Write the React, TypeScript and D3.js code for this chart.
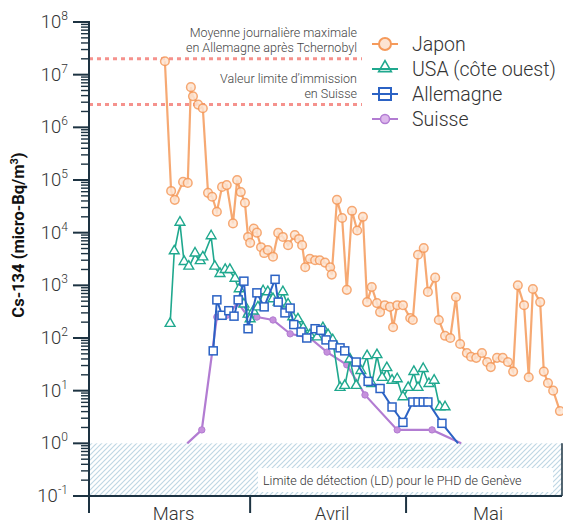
import React, { useEffect, useRef } from 'react';
import * as d3 from 'd3';

// days counted from 1 March (0 = 1 Mar), values in micro-Bq/m3
const japonDays = [14.6, 15.8, 16.5, 18.1, 19.0, 19.6, 20.0, 21.0, 21.9, 22.9, 23.7, 24.6, 25.6, 26.5, 27.7, 28.5, 29.2, 30.0, 30.6, 31.0, 31.7, 32.3, 33.1, 33.7, 34.4, 35.4, 36.4, 37.3, 38.3, 39.6, 40.4, 41.0, 41.6, 42.5, 43.5, 44.4, 45.4, 46.4, 46.7, 47.7, 48.7, 49.6, 50.6, 51.6, 52.7, 53.5, 54.4, 55.4, 56.0, 56.9, 57.9, 58.5, 59.3, 60.4, 61.8, 62.3, 63.3, 64.4, 65.2, 66.6, 67.3, 68.5, 69.5, 70.6, 71.4, 72.7, 73.5, 74.5, 75.6, 76.6, 77.3, 78.5, 79.6, 80.6, 81.6, 82.5, 83.7, 84.6, 85.4, 86.8, 87.5, 88.3, 89.3, 90.6];
const japonValues = [1.8e7, 6.2e4, 4.2e4, 9.2e4, 8.8e4, 5.8e6, 3.9e6, 2.7e6, 2.3e6, 5.7e4, 4.8e4, 2.5e4, 7.4e4, 8.0e4, 1.5e4, 1.0e5, 5.9e4, 3.7e4, 8.3e3, 6.4e3, 1.2e4, 1.0e4, 5.3e3, 4.1e3, 4.7e3, 3.5e3, 9.9e3, 8.3e3, 5.8e3, 9.0e3, 7.6e3, 5.8e3, 2.2e3, 3.2e3, 3.0e3, 3.0e3, 2.7e3, 2.2e3, 1.6e3, 4.2e4, 1.9e4, 820, 2.6e4, 1.1e4, 2.0e4, 480, 930, 460, 310, 420, 390, 160, 420, 420, 240, 220, 3.8e3, 5.1e3, 750, 1.4e3, 220, 110, 100, 600, 77, 52, 44, 42, 52, 35, 28, 42, 42, 35, 23, 1.0e3, 420, 18, 850, 480, 23, 14, 10, 4.1];

const usaDays = [15.6, 16.4, 17.5, 18.3, 19.2, 20.4, 21.4, 21.9, 23.5, 24.2, 25.2, 26.2, 27.1, 28.1, 28.9, 29.8, 30.6, 31.0, 31.6, 32.5, 33.5, 34.4, 35.4, 36.4, 37.3, 38.3, 39.2, 40.2, 41.2, 42.5, 43.9, 45.0, 46.0, 46.9, 48.3, 49.2, 50.2, 51.4, 52.3, 53.5, 54.4, 55.4, 56.4, 57.3, 58.3, 59.3, 60.4, 61.4, 62.5, 63.3, 64.3, 65.4, 66.4, 67.5, 68.5];
const usaValues = [180, 4300, 15000, 2700, 2200, 3900, 2800, 3300, 8300, 2200, 1600, 1900, 1900, 1300, 820, 420, 270, 220, 310, 370, 750, 720, 530, 460, 720, 420, 240, 220, 150, 110, 100, 150, 110, 88, 11, 12, 38, 12, 23, 44, 13, 46, 17, 26, 15, 16, 7.3, 11, 22, 11, 25, 13, 15, 4.7, 4.7];

const allemagneDays = [23.9, 24.6, 25.6, 26.9, 27.9, 28.7, 29.8, 30.6, 32.3, 33.7, 35.8, 36.4, 37.7, 38.7, 39.4, 40.8, 41.9, 43.5, 44.6, 45.6, 46.9, 48.3, 49.2, 51.4, 53.7, 56.0, 58.3, 60.4, 62.3, 63.3, 64.3, 65.2, 67.9, 71.0];
const allemagneValues = [57, 530, 270, 330, 260, 530, 1200, 150, 720, 390, 1300, 480, 300, 370, 180, 130, 100, 150, 140, 92, 74, 65, 57, 35, 15, 11, 4.9, 2.5, 6.1, 6.1, 6.1, 6.1, 2.4, 1];

const suisseDays = [18.9, 21.7, 24.6, 26.5, 28.7, 30.4, 32.3, 35.4, 38.7, 42.5, 45.8, 49.6, 53.1, 59.3, 66.0, 71.6];
const suisseValues = [1, 1.8, 250, 270, 460, 270, 250, 220, 120, 100, 54, 31, 8.3, 1.8, 1.8, 1];

const monthNames = ['Mars', 'Avril', 'Mai'];
const monthStarts = [0, 31, 61, 91];
const seriesNames = ['Japon', 'USA (côte ouest)', 'Allemagne', 'Suisse'];

const refLines = [2.0e7, 2.7e6];
const detectionLimit = 1;

export default function App() {
  const svgRef = useRef(null);

  useEffect(() => {
    const svg = d3.select(svgRef.current);
    svg.selectAll('*').remove();

    const axisColor = '#1d3342';
    const colors = ['#f59a5b', '#1fa88e', '#2b62c4', '#b27cd2'];
    const light = 300;

    const x = d3.scaleLinear().domain([0, 91]).range([89, 562]);
    const y = d3.scaleLog().domain([0.1, 1e8]).range([496, 22]);

    // hatch pattern for the detection-limit band
    const defs = svg.append('defs');
    const pat = defs.append('pattern')
      .attr('id', 'hatch')
      .attr('patternUnits', 'userSpaceOnUse')
      .attr('width', 5)
      .attr('height', 5);
    pat.append('path')
      .attr('d', 'M-1,1 l2,-2 M0,5 l5,-5 M4,6 l2,-2')
      .attr('stroke', '#bfd7e4')
      .attr('stroke-width', 1.2);

    svg.append('rect')
      .attr('x', x(0)).attr('y', y(detectionLimit))
      .attr('width', x(91) - x(0)).attr('height', y(0.1) - y(detectionLimit))
      .attr('fill', 'url(#hatch)');

    svg.append('line')
      .attr('x1', x(91)).attr('x2', x(91))
      .attr('y1', y(detectionLimit)).attr('y2', y(0.1))
      .attr('stroke', axisColor).attr('stroke-width', 1.5);

    svg.append('rect')
      .attr('x', 258).attr('y', 468).attr('width', 295).attr('height', 24)
      .attr('fill', '#fff');
    svg.append('text')
      .attr('x', 263).attr('y', 480)
      .attr('dominant-baseline', 'central')
      .attr('font-size', 12.5)
      .attr('font-weight', light)
      .attr('fill', '#333')
      .text('Limite de détection (LD) pour le PHD de Genève');

    // reference dotted lines
    svg.selectAll('.ref')
      .data(refLines)
      .enter()
      .append('line')
      .attr('x1', x(0)).attr('x2', 362)
      .attr('y1', d => y(d)).attr('y2', d => y(d))
      .attr('stroke', '#f4807a')
      .attr('stroke-width', 3)
      .attr('stroke-dasharray', '4,4')
      .attr('opacity', 0.85);

    const notes = [
      { text: 'Moyenne journalière maximale', y: 32 },
      { text: 'en Allemagne après Tchernobyl', y: 47 },
      { text: 'Valeur limite d’immission', y: 78 },
      { text: 'en Suisse', y: 93 },
    ];
    svg.selectAll('.note')
      .data(notes)
      .enter()
      .append('text')
      .attr('x', 357)
      .attr('y', d => d.y)
      .attr('text-anchor', 'end')
      .attr('dominant-baseline', 'central')
      .attr('font-size', 12.5)
      .attr('font-weight', light)
      .attr('fill', '#444')
      .text(d => d.text);

    // y axis
    svg.append('line')
      .attr('x1', x(0)).attr('x2', x(0))
      .attr('y1', y(1e8) - 1).attr('y2', y(0.1))
      .attr('stroke', axisColor).attr('stroke-width', 2);

    const decades = d3.range(-1, 9);
    const minor = [];
    decades.slice(0, -1).forEach(e => {
      for (let k = 2; k <= 9; k++) minor.push(k * Math.pow(10, e));
    });
    svg.selectAll('.minor')
      .data(minor)
      .enter()
      .append('line')
      .attr('x1', x(0) - 8).attr('x2', x(0))
      .attr('y1', d => y(d)).attr('y2', d => y(d))
      .attr('stroke', axisColor).attr('stroke-width', 1.4);
    svg.selectAll('.major')
      .data(decades)
      .enter()
      .append('line')
      .attr('x1', x(0) - 16).attr('x2', x(0))
      .attr('y1', d => y(Math.pow(10, d))).attr('y2', d => y(Math.pow(10, d)))
      .attr('stroke', axisColor).attr('stroke-width', 2);

    const lab = svg.selectAll('.ylab')
      .data(decades)
      .enter()
      .append('text')
      .attr('x', 68)
      .attr('y', d => y(Math.pow(10, d)) + 6)
      .attr('text-anchor', 'end')
      .attr('font-size', 18.5)
      .attr('font-weight', light)
      .attr('fill', '#333');
    lab.append('tspan').text('10');
    lab.append('tspan')
      .attr('dy', -8)
      .attr('font-size', 12)
      .text(d => String(d));

    const yl = svg.append('text')
      .attr('transform', 'translate(24,235) rotate(-90)')
      .attr('text-anchor', 'middle')
      .attr('font-size', 16.5)
      .attr('font-weight', 'bold')
      .attr('fill', '#111');
    yl.append('tspan').text('Cs-134 (micro-Bq/m');
    yl.append('tspan').attr('dy', -6).attr('font-size', 11).text('3');
    yl.append('tspan').attr('dy', 6).text(')');

    // x axis
    svg.append('line')
      .attr('x1', x(0) - 1).attr('x2', x(91))
      .attr('y1', y(0.1)).attr('y2', y(0.1))
      .attr('stroke', axisColor).attr('stroke-width', 2);
    svg.selectAll('.xtick')
      .data(monthStarts.slice(0, 3))
      .enter()
      .append('line')
      .attr('x1', d => x(d)).attr('x2', d => x(d))
      .attr('y1', y(0.1)).attr('y2', y(0.1) + 17)
      .attr('stroke', axisColor).attr('stroke-width', 2);
    svg.selectAll('.month')
      .data(monthNames)
      .enter()
      .append('text')
      .attr('x', (d, i) => (x(monthStarts[i]) + x(monthStarts[i + 1])) / 2 + 4)
      .attr('y', 520)
      .attr('text-anchor', 'middle')
      .attr('font-size', 18.5)
      .attr('font-weight', light)
      .attr('fill', '#333')
      .text(d => d);

    const line = d3.line()
      .x(d => x(d[0]))
      .y(d => y(d[1]));

    const japon = d3.zip(japonDays, japonValues);
    const usa = d3.zip(usaDays, usaValues);
    const allemagne = d3.zip(allemagneDays, allemagneValues);
    const suisse = d3.zip(suisseDays, suisseValues);

    const plot = svg.append('g');

    // Japon
    plot.append('path')
      .datum(japon)
      .attr('fill', 'none')
      .attr('stroke', colors[0])
      .attr('stroke-width', 2.2)
      .attr('opacity', 0.85)
      .attr('d', line);
    plot.selectAll('.jp')
      .data(japon)
      .enter()
      .append('circle')
      .attr('cx', d => x(d[0]))
      .attr('cy', d => y(d[1]))
      .attr('r', 4.3)
      .attr('fill', '#fde4d2')
      .attr('stroke', colors[0])
      .attr('stroke-width', 1.5)
      .attr('opacity', 0.85);

    // Suisse
    plot.append('path')
      .datum(suisse)
      .attr('fill', 'none')
      .attr('stroke', colors[3])
      .attr('stroke-width', 2.2)
      .attr('d', line);
    plot.selectAll('.ch')
      .data(suisse.filter(d => d[1] > detectionLimit))
      .enter()
      .append('circle')
      .attr('cx', d => x(d[0]))
      .attr('cy', d => y(d[1]))
      .attr('r', 3.2)
      .attr('fill', '#c690dc')
      .attr('stroke', colors[3])
      .attr('stroke-width', 1);

    // USA
    const tri = d3.symbol().type(d3.symbolTriangle).size(42);
    plot.append('path')
      .datum(usa)
      .attr('fill', 'none')
      .attr('stroke', colors[1])
      .attr('stroke-width', 1.6)
      .attr('d', line);
    plot.selectAll('.us')
      .data(usa)
      .enter()
      .append('path')
      .attr('d', tri)
      .attr('transform', d => `translate(${x(d[0])},${y(d[1]) - 1})`)
      .attr('fill', '#fff')
      .attr('stroke', colors[1])
      .attr('stroke-width', 1.4);

    // Allemagne
    plot.append('path')
      .datum(allemagne)
      .attr('fill', 'none')
      .attr('stroke', colors[2])
      .attr('stroke-width', 2)
      .attr('d', line);
    plot.selectAll('.de')
      .data(allemagne.filter(d => d[1] > detectionLimit))
      .enter()
      .append('rect')
      .attr('x', d => x(d[0]) - 4)
      .attr('y', d => y(d[1]) - 4)
      .attr('width', 8)
      .attr('height', 8)
      .attr('fill', '#fff')
      .attr('stroke', colors[2])
      .attr('stroke-width', 1.5);

    // legend
    const legend = svg.append('g');
    seriesNames.forEach((name, i) => {
      const ly = 44 + i * 25;
      legend.append('line')
        .attr('x1', 372).attr('x2', 398)
        .attr('y1', ly).attr('y2', ly)
        .attr('stroke', colors[i]).attr('stroke-width', 2);
      if (i === 0) {
        legend.append('circle').attr('cx', 385).attr('cy', ly).attr('r', 6)
          .attr('fill', '#fde4d2').attr('stroke', colors[0]).attr('stroke-width', 2);
      } else if (i === 1) {
        legend.append('path').attr('d', d3.symbol().type(d3.symbolTriangle).size(70))
          .attr('transform', `translate(385,${ly - 1})`)
          .attr('fill', 'none').attr('stroke', colors[1]).attr('stroke-width', 1.6);
      } else if (i === 2) {
        legend.append('rect').attr('x', 379).attr('y', ly - 6).attr('width', 12).attr('height', 12)
          .attr('fill', 'none').attr('stroke', colors[2]).attr('stroke-width', 2);
      } else {
        legend.append('circle').attr('cx', 385).attr('cy', ly).attr('r', 4.5)
          .attr('fill', '#ddb8ec').attr('stroke', colors[3]).attr('stroke-width', 1.5);
      }
      legend.append('text')
        .attr('x', 412).attr('y', ly)
        .attr('dominant-baseline', 'central')
        .attr('font-size', 19.5)
        .attr('font-weight', light)
        .attr('fill', '#333')
        .text(name);
    });
  }, []);

  return (
    <svg
      ref={svgRef}
      width={563}
      height={524}
      style={{ position: 'absolute', left: 0, top: 0, background: '#fff', fontFamily: 'Roboto, "Liberation Sans", sans-serif' }}
    />
  );
}
